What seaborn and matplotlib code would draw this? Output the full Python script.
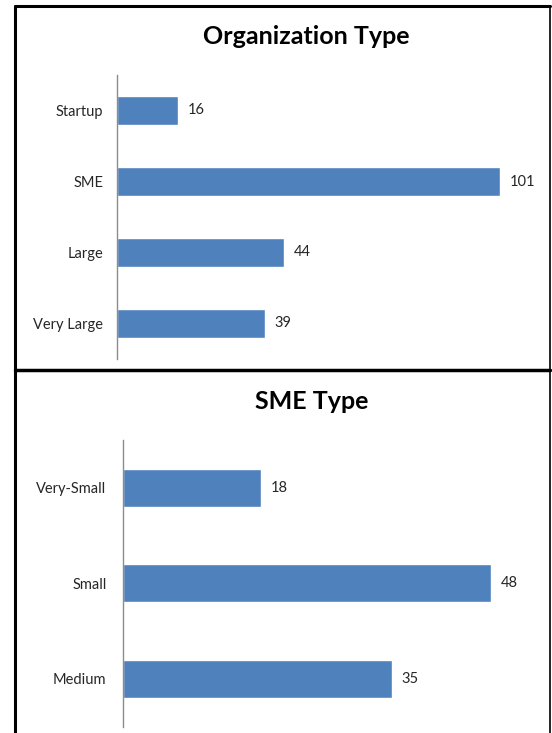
import matplotlib
matplotlib.use('Agg')
import matplotlib.pyplot as plt
import seaborn as sns
import pandas as pd
from matplotlib.lines import Line2D

# data
org_types = ['Startup', 'SME', 'Large', 'Very Large']
org_counts = [16, 101, 44, 39]
sme_types = ['Very-Small', 'Small', 'Medium']
sme_counts = [18, 48, 35]

sns.set_style('white')
plt.rcParams['font.family'] = ['Lato', 'DejaVu Sans']

BAR = '#4F81BD'
W, H = 552, 733

fig = plt.figure(figsize=(W / 100, H / 100), dpi=100)


def px_axes(left, top, right, bottom):
    return fig.add_axes([left / W, (H - bottom) / H, (right - left) / W, (bottom - top) / H])


def draw(ax, cats, vals, xmax, width, pad):
    df = pd.DataFrame({'cat': cats, 'val': vals})
    sns.barplot(data=df, x='val', y='cat', orient='h', color=BAR, width=width,
                saturation=1, ax=ax)
    ax.set_xlim(0, xmax)
    ax.set_xlabel('')
    ax.set_ylabel('')
    ax.set_xticks([])
    for s in ['top', 'right', 'bottom']:
        ax.spines[s].set_visible(False)
    ax.spines['left'].set_color('#8c8c8c')
    ax.spines['left'].set_linewidth(1.0)
    ax.tick_params(axis='y', length=0, pad=pad, labelsize=10.5, labelcolor='#262626')
    for c in ax.containers:
        ax.bar_label(c, padding=7, fontsize=10.5, color='#262626')
    ax.patch.set_alpha(0)


ax1 = px_axes(117, 75, 534, 359)
draw(ax1, org_types, org_counts, 110, 0.41, 10)
fig.text(306 / W, 1 - 37 / H, 'Organization Type', ha='center', va='center',
         fontsize=18, fontweight='bold', color='black')

ax2 = px_axes(123, 440, 545, 726.5)
draw(ax2, sme_types, sme_counts, 55, 0.40, 12)
fig.text(312 / W, 1 - 401 / H, 'SME Type', ha='center', va='center',
         fontsize=18, fontweight='bold', color='black')

# panel borders
def fline(x0, y0, x1, y1, lw):
    fig.add_artist(Line2D([x0 / W, x1 / W], [1 - y0 / H, 1 - y1 / H],
                          color='black', linewidth=lw, transform=fig.transFigure))

fline(14.5, 5.5, 14.5, 733, 2.2)
fline(14.5, 5.5, 549.5, 5.5, 2.2)
fline(549.5, 5.5, 549.5, 733, 1.2)
fline(14.5, 369.5, 549.5, 369.5, 2.5)

fig.savefig('out.png', dpi=100)
